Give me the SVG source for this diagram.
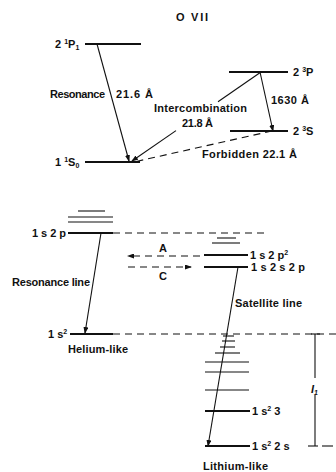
<svg xmlns="http://www.w3.org/2000/svg" width="336" height="472" viewBox="0 0 336 472">
<style>
text{font-family:"Liberation Sans",Arial,sans-serif;font-size:11px;font-weight:bold;fill:#111}
.lv{stroke:#111;stroke-width:2;fill:none}
.tn{stroke:#111;stroke-width:1.1;fill:none}
.ar{stroke:#111;stroke-width:1.1;fill:none}
.ds{stroke:#111;stroke-width:1.1;fill:none;stroke-dasharray:7 5}
.sm{font-size:7px}
</style>
<defs>
<marker id="ah" markerUnits="userSpaceOnUse" markerWidth="7" markerHeight="5" refX="6" refY="2.5" orient="auto">
<path d="M0,0 L7,2.5 L0,5 z" fill="#111"/>
</marker>
</defs>
<rect width="336" height="472" fill="#fff"/>
<text x="192" y="21" text-anchor="middle" textLength="32">O  VII</text>

<g id="lvl-2-1P1">
<line class="lv" x1="85" y1="44" x2="141" y2="44"/>
<text x="55" y="48">2 <tspan class="sm" dy="-4">1</tspan><tspan dy="4">P</tspan><tspan class="sm" dy="2">1</tspan></text>
</g>
<g id="lvl-2-3P">
<line class="lv" x1="229" y1="72" x2="288" y2="72"/>
<text x="293" y="76">2 <tspan class="sm" dy="-4">3</tspan><tspan dy="4">P</tspan></text>
</g>
<g id="lvl-2-3S">
<line class="lv" x1="230" y1="131" x2="288" y2="131"/>
<text x="293" y="135">2 <tspan class="sm" dy="-4">3</tspan><tspan dy="4">S</tspan></text>
</g>
<g id="lvl-1-1S0">
<line class="lv" x1="85" y1="162" x2="140" y2="162"/>
<text x="55" y="166">1 <tspan class="sm" dy="-4">1</tspan><tspan dy="4">S</tspan><tspan class="sm" dy="2">0</tspan></text>
</g>

<g id="he-1s2p">
<line class="tn" x1="78" y1="211" x2="105" y2="211"/>
<line class="tn" x1="68" y1="217" x2="113" y2="217"/>
<line class="tn" x1="68" y1="222" x2="113" y2="222"/>
<line class="lv" x1="68" y1="233" x2="113" y2="233"/>
<text x="32" y="237" textLength="34">1 s 2 p</text>
</g>
<g id="he-1s2">
<line class="lv" x1="70" y1="334" x2="113" y2="334"/>
<text x="48" y="338">1 s<tspan class="sm" dy="-4">2</tspan></text>
<text x="68" y="353" textLength="60">Helium-like</text>
</g>
<g id="li-1s2p2">
<line class="tn" x1="217" y1="238" x2="236" y2="238"/>
<line class="tn" x1="212" y1="243" x2="240" y2="243"/>
<line class="lv" x1="204" y1="255" x2="248" y2="255"/>
<text x="250" y="259">1 s 2 p<tspan class="sm" dy="-4">2</tspan></text>
</g>
<g id="li-1s2s2p">
<line class="lv" x1="204" y1="267" x2="248" y2="267"/>
<text x="251" y="271" textLength="54">1 s 2 s 2 p</text>
</g>
<g id="li-rydberg">
<line class="tn" x1="223" y1="336" x2="234" y2="336"/>
<line class="tn" x1="222" y1="341" x2="235" y2="341"/>
<line class="tn" x1="220" y1="347" x2="235" y2="347"/>
<line class="tn" x1="215" y1="353" x2="240" y2="353"/>
<line class="tn" x1="205" y1="362" x2="249" y2="362"/>
<line class="tn" x1="205" y1="372" x2="249" y2="372"/>
<line class="tn" x1="205" y1="390" x2="249" y2="390"/>
</g>
<g id="li-1s2-3">
<line class="lv" x1="205" y1="411" x2="250" y2="411"/>
<text x="252" y="415">1 s<tspan class="sm" dy="-4">2</tspan><tspan dy="4"> 3</tspan></text>
</g>
<g id="li-1s2-2s">
<line class="lv" x1="205" y1="446" x2="250" y2="446"/>
<text x="252" y="450">1 s<tspan class="sm" dy="-4">2</tspan><tspan dy="4"> 2 s</tspan></text>
<text x="203" y="470" textLength="65">Lithium-like</text>
</g>

<g id="connectors">
<line class="ar" x1="97" y1="44" x2="129" y2="161" marker-end="url(#ah)"/>
<text x="50" y="98" textLength="55">Resonance</text>
<text x="116" y="98" textLength="37">21.6 Å</text>

<line class="ar" x1="261" y1="72" x2="218" y2="101.7"/>
<line class="ar" x1="176" y1="130.6" x2="132" y2="161" marker-end="url(#ah)"/>
<text x="154" y="112" textLength="93">Intercombination</text>
<text x="182" y="127" textLength="31">21.8 Å</text>

<line class="ar" x1="260" y1="72" x2="273" y2="131" marker-end="url(#ah)"/>
<text x="271" y="104" textLength="38">1630 Å</text>

<line class="ds" x1="272" y1="131" x2="136" y2="161.5"/>
<text x="202" y="158" textLength="95">Forbidden 22.1 Å</text>

<line class="ds" x1="113" y1="233" x2="268" y2="233"/>
<line class="ds" x1="113" y1="334" x2="336" y2="334"/>

<line class="ds" x1="200" y1="256" x2="128" y2="256" marker-end="url(#ah)"/>
<text x="163" y="252" text-anchor="middle">A</text>
<line class="ds" x1="128" y1="267" x2="191" y2="267" marker-end="url(#ah)"/>
<text x="163" y="280" text-anchor="middle">C</text>

<line class="ar" x1="101" y1="233" x2="85" y2="333" marker-end="url(#ah)"/>
<text x="12" y="286" textLength="78">Resonance line</text>

<line class="ar" x1="238" y1="267" x2="208" y2="446" marker-end="url(#ah)"/>
<text x="235" y="307" textLength="67">Satellite line</text>

<line class="tn" x1="315" y1="334" x2="315" y2="378"/>
<line class="tn" x1="315" y1="395" x2="315" y2="446"/>
<line class="tn" x1="311" y1="334" x2="320" y2="334"/>
<line class="tn" x1="308" y1="446" x2="318" y2="446"/>
<line class="tn" x1="322" y1="446" x2="333" y2="446"/>
<text x="311" y="393" font-style="italic">I<tspan class="sm" dy="2">1</tspan></text>
</g>
</svg>
